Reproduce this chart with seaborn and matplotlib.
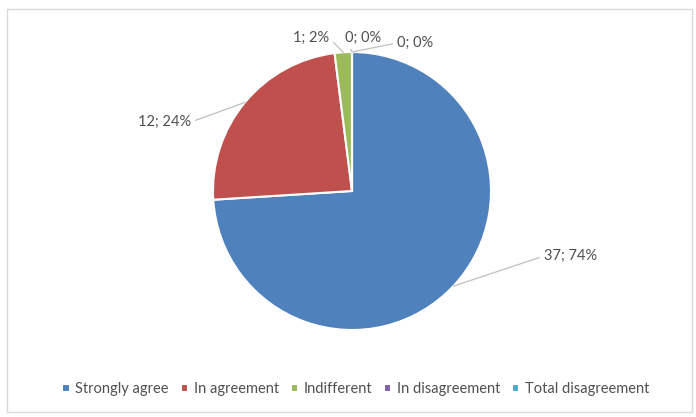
import numpy as np
import matplotlib
matplotlib.use("Agg")
import matplotlib.pyplot as plt
from matplotlib.patches import Rectangle
import seaborn as sns

# ==========================================
# Data
# ==========================================
categories = ["Strongly agree", "In agreement", "Indifferent",
              "In disagreement", "Total disagreement"]
counts = [37, 12, 1, 0, 0]
percents = [74, 24, 2, 0, 0]
colors = ["#4F81BD", "#C0504D", "#9BBB59", "#8064A2", "#4BACC6"]

sns.set_theme(style="white")
plt.rcParams["font.family"] = ["Lato", "DejaVu Sans"]

W, H = 696, 417
fig = plt.figure(figsize=(W / 100, H / 100), dpi=100)

# pie axes: centre (352, 191) px, radius 139 px
r_px = 139
cx, cy = 352, 191
ax = fig.add_axes([(cx - r_px) / W, (H - cy - r_px) / H, 2 * r_px / W, 2 * r_px / H])
wedges, _ = ax.pie(counts, colors=sns.color_palette(colors), startangle=90,
                   counterclock=False,
                   wedgeprops=dict(edgecolor="white", linewidth=1.5))
ax.set_xlim(-1, 1)
ax.set_ylim(-1, 1)
ax.axis("off")

# label positions in image pixels (x, y from top), with anchor side
label_pos = [(544, 256, "left"), (191, 122, "right"), (329, 38, "right"),
             (345, 38, "left"), (397, 43, "left")]
for w, v, p, (tx, ty, side) in zip(wedges, counts, percents, label_pos):
    ang = np.deg2rad((w.theta1 + w.theta2) / 2)
    ex, ey = np.cos(ang), np.sin(ang)
    ax.annotate(f"{v}; {p}%", xy=(ex, ey), xycoords="data",
                xytext=(tx, H - ty), textcoords="figure pixels",
                ha=side, va="center", fontsize=10.5, color="#505050",
                annotation_clip=False,
                arrowprops=dict(arrowstyle="-", color="#BFBFBF", lw=0.9,
                                shrinkA=1, shrinkB=0,
                                relpos=(0, 0.5) if side == "left" else (1, 0.5)))

fig.legend(wedges, categories, loc="center", ncol=5,
           bbox_to_anchor=(356 / W, (H - 389) / H), frameon=False,
           fontsize=10.5, handlelength=0.5, handleheight=0.5,
           handletextpad=0.4, columnspacing=0.8, labelcolor="#505050")

fig.patches.append(Rectangle((7 / W, 5 / H), 685 / W, 403 / H,
                             transform=fig.transFigure, fill=False,
                             edgecolor="#D9D9D9", linewidth=1))

plt.savefig("out.png", dpi=100)
